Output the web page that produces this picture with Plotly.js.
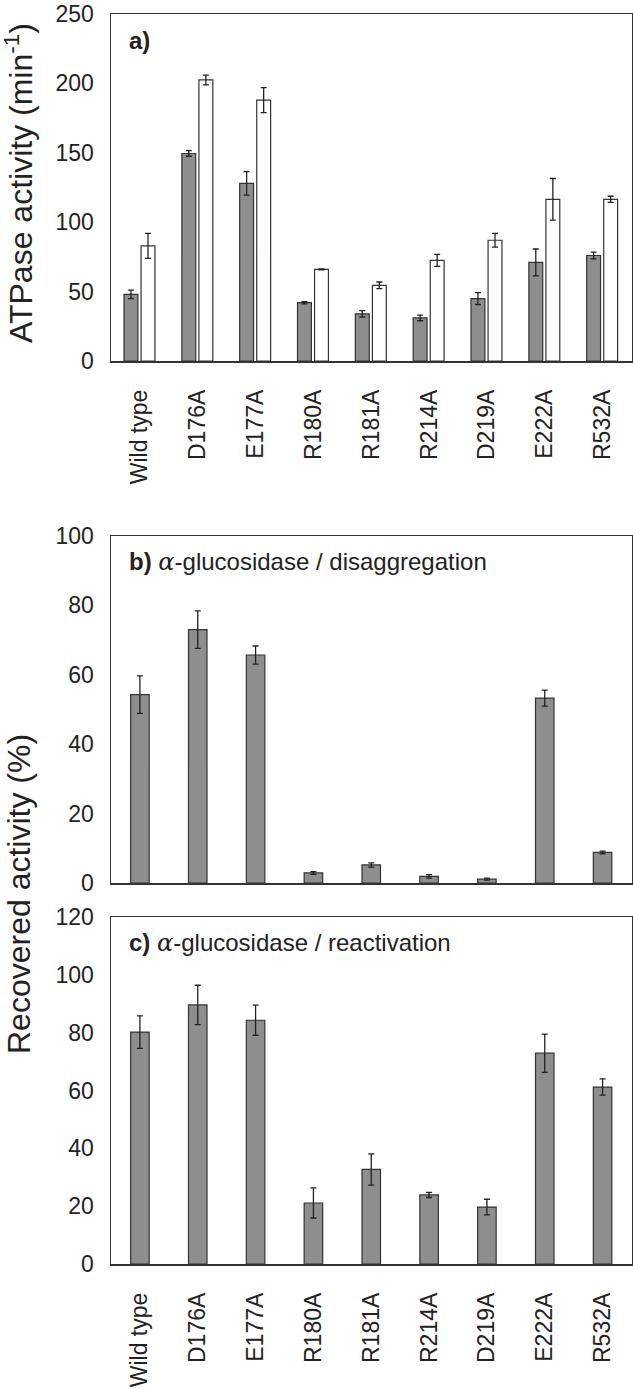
<!DOCTYPE html>
<html>
<head>
<meta charset="utf-8">
<script src="https://cdn.plot.ly/plotly-3.0.1.min.js"></script>
<style>html,body{margin:0;padding:0;background:#fff;}</style>
</head>
<body>
<div id="chart" style="width:633px;height:1389px;"></div>
<script>
// ---- Data ----
const categories = ["Wild type","D176A","E177A","R180A","R181A","R214A","D219A","E222A","R532A"];

// Panel a: ATPase activity (min^-1)
const atpaseGray      = [48, 149.5, 128, 42, 34, 31, 45, 71, 76];
const atpaseGrayErr   = [3, 2, 8.5, 0.8, 2.3, 2, 4.3, 9.7, 2.4];
const atpaseWhite     = [83, 202.5, 188, 66, 54.5, 72.5, 87, 116.5, 116.5];
const atpaseWhiteErr  = [9, 3.5, 9, 0.4, 2.4, 4.3, 5, 15, 2.2];

// Panel b: alpha-glucosidase / disaggregation (%)
const disagg      = [54.3, 73, 65.7, 2.9, 5.2, 1.9, 1.1, 53.3, 8.8];
const disaggErr   = [5.4, 5.4, 2.6, 0.4, 0.6, 0.5, 0.3, 2.3, 0.4];

// Panel c: alpha-glucosidase / reactivation (%)
const reactiv     = [80.2, 89.6, 84.3, 21.1, 32.7, 23.9, 19.7, 72.9, 61.2];
const reactivErr  = [5.6, 6.8, 5.2, 5.2, 5.4, 0.9, 2.7, 6.6, 2.8];

// ---- Styling ----
const H = 1389, W = 633;
const gray = '#8e8e8e';
const edge = '#333333';
const txt = '#222222';
const font = 'Liberation Sans, Arial, sans-serif';

function errStyle(arr){
  return {type:'data', array:arr, visible:true, color:'#222', thickness:1.3, width:3};
}

const traces = [
  {type:'bar', x:categories, y:atpaseGray, xaxis:'x', yaxis:'y',
   offset:-0.275, width:0.24,
   marker:{color:gray, line:{color:edge, width:1.2}}, error_y:errStyle(atpaseGrayErr), showlegend:false},
  {type:'bar', x:categories, y:atpaseWhite, xaxis:'x', yaxis:'y',
   offset:0.02, width:0.24,
   marker:{color:'#ffffff', line:{color:edge, width:1.2}}, error_y:errStyle(atpaseWhiteErr), showlegend:false},
  {type:'bar', x:categories, y:disagg, xaxis:'x2', yaxis:'y2',
   width:0.32,
   marker:{color:gray, line:{color:edge, width:1.2}}, error_y:errStyle(disaggErr), showlegend:false},
  {type:'bar', x:categories, y:reactiv, xaxis:'x3', yaxis:'y3',
   width:0.32,
   marker:{color:gray, line:{color:edge, width:1.2}}, error_y:errStyle(reactivErr), showlegend:false}
];

const xdom = [111/W, 631.5/W];
function ydom(top, bottom){ return [1-bottom/H, 1-top/H]; }

function xax(anchor, showLabels){
  return {domain:xdom, anchor:anchor, type:'category', showline:true, mirror:true,
    linecolor:edge, linewidth:1.5, ticks:'', showgrid:false, zeroline:false,
    showticklabels:showLabels, tickangle:-90, ticklabelstandoff:18,
    tickfont:{family:font, size:23, color:txt}, fixedrange:true};
}
function yax(anchor, dom, range, dtick){
  return {domain:dom, anchor:anchor, range:range, dtick:dtick, tick0:0, showline:true, mirror:true,
    linecolor:edge, linewidth:1.5, ticks:'', showgrid:false, zeroline:false,
    ticklabelstandoff:11, tickfont:{family:font, size:23, color:txt}, fixedrange:true};
}

const tops = {a:14, b:536, c:917};
const bottoms = {a:361, b:883, c:1264};

const alpha = '<span style="font-family:DejaVu Serif;font-style:italic">α</span>';

const layout = {
  width:W, height:H,
  margin:{l:0, r:0, t:0, b:0},
  paper_bgcolor:'#fff', plot_bgcolor:'#fff',
  barmode:'overlay',
  showlegend:false,
  xaxis: xax('y', true),
  xaxis2: xax('y2', false),
  xaxis3: xax('y3', true),
  yaxis: yax('x', ydom(tops.a, bottoms.a), [0,250], 50),
  yaxis2: yax('x2', ydom(tops.b, bottoms.b), [0,100], 20),
  yaxis3: yax('x3', ydom(tops.c, bottoms.c), [0,120], 20),
  annotations:[
    {xref:'paper', yref:'paper', x:127/W, y:1-(tops.a+27)/H, xanchor:'left', yanchor:'middle',
     text:'<b>a)</b>', showarrow:false, font:{family:font, size:24, color:txt}},
    {xref:'paper', yref:'paper', x:127/W, y:1-(tops.b+26)/H, xanchor:'left', yanchor:'middle',
     text:'<b>b)</b> '+alpha+'-glucosidase / disaggregation', showarrow:false, font:{family:font, size:24, color:txt}},
    {xref:'paper', yref:'paper', x:127/W, y:1-(tops.c+26)/H, xanchor:'left', yanchor:'middle',
     text:'<b>c)</b> '+alpha+'-glucosidase / reactivation', showarrow:false, font:{family:font, size:24, color:txt}},
    {xref:'paper', yref:'paper', x:19/W, y:1-183/H, xanchor:'center', yanchor:'middle', textangle:-90,
     text:'ATPase activity (min<sup>-1</sup>)', showarrow:false, font:{family:font, size:32, color:txt}},
    {xref:'paper', yref:'paper', x:19/W, y:1-894/H, xanchor:'center', yanchor:'middle', textangle:-90,
     text:'Recovered activity (%)', showarrow:false, font:{family:font, size:32, color:txt}}
  ]
};

Plotly.newPlot('chart', traces, layout, {displayModeBar:false, staticPlot:true});
</script>
</body>
</html>
